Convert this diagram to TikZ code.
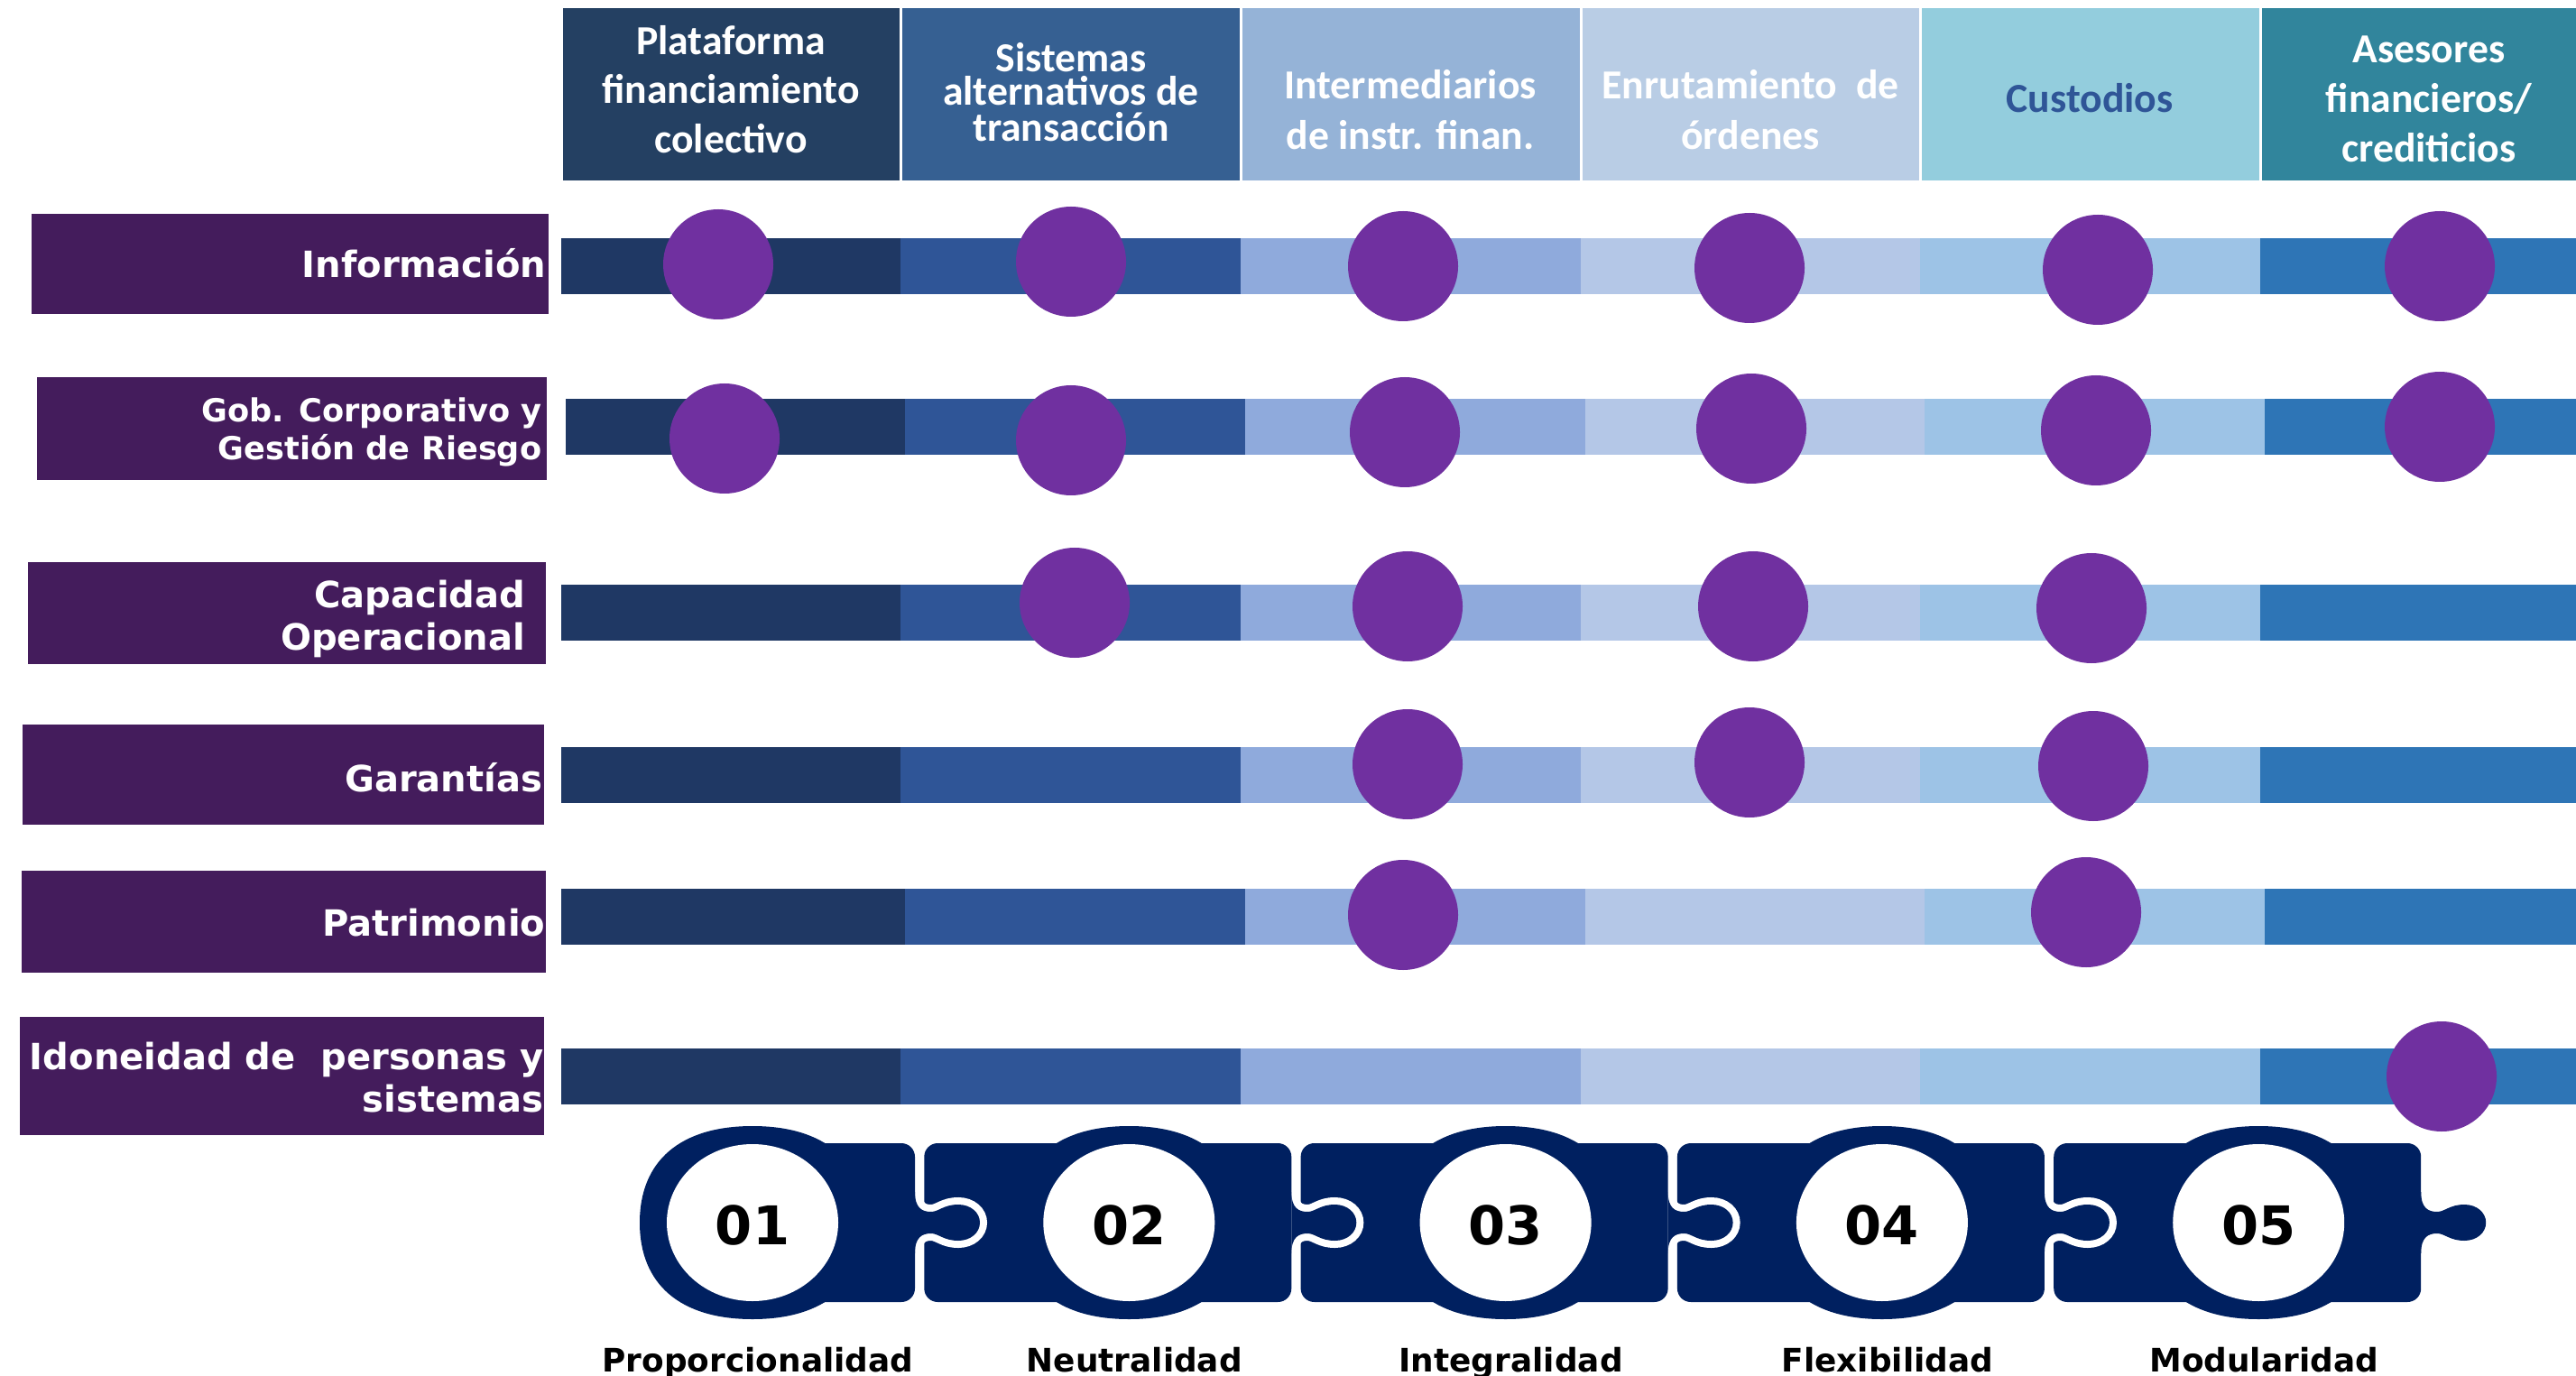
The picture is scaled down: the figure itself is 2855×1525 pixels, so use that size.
\documentclass[tikz,border=0pt]{standalone}
\usepackage{fontspec}
\newfontfamily\carlito{Carlito}
\newfontfamily\dvs{DejaVu Sans}
\definecolor{hcA}{HTML}{244062}
\definecolor{hcB}{HTML}{366092}
\definecolor{hcC}{HTML}{95B3D7}
\definecolor{hcD}{HTML}{B9CDE5}
\definecolor{hcE}{HTML}{93CDDD}
\definecolor{hcF}{HTML}{31859C}
\definecolor{bcA}{HTML}{1F3864}
\definecolor{bcB}{HTML}{2F5597}
\definecolor{bcC}{HTML}{8FAADC}
\definecolor{bcD}{HTML}{B4C7E7}
\definecolor{bcE}{HTML}{9DC3E6}
\definecolor{bcF}{HTML}{2E75B6}
\definecolor{dotc}{HTML}{7030A0}
\definecolor{lblbg}{HTML}{441C5C}
\definecolor{navy}{HTML}{002060}
\definecolor{custtxt}{HTML}{2F5597}
\newcommand\mybarrow[4]{%
  \fill[bcA] (#3,#1) rectangle (998+#4,#2);
  \fill[bcB] (998+#4,#1) rectangle (1375+#4,#2);
  \fill[bcC] (1375+#4,#1) rectangle (1752+#4,#2);
  \fill[bcD] (1752+#4,#1) rectangle (2128+#4,#2);
  \fill[bcE] (2128+#4,#1) rectangle (2505+#4,#2);
  \fill[bcF] (2505+#4,#1) rectangle (2855,#2);}
\begin{document}
\begin{tikzpicture}[x=0.01cm,y=-0.01cm,
  hdr/.style={font=\carlito\bfseries\fontsize{13}{15}\selectfont, text=white, inner sep=0pt, anchor=base},
  lbl/.style={font=\dvs\bfseries\fontsize{11.4}{13}\selectfont, text=white, inner sep=0pt, anchor=base east},
  lblsmall/.style={lbl, font=\dvs\bfseries\fontsize{10}{12}\selectfont},
  num/.style={font=\dvs\bfseries\fontsize{16.8}{18}\selectfont, text=black, inner sep=0pt},
  prin/.style={font=\dvs\bfseries\fontsize{10.2}{12}\selectfont, text=black, inner sep=0pt, anchor=base},
  cell/.style={draw=white, line width=0.03cm},
  knobpath/.style={insert path={(\R,1321) .. controls (\R,1339) and (\R+8,1343) .. (\R+18,1343)
     .. controls (\R+26,1343) and (\R+32,1335) .. (\R+48,1335)
     .. controls (\R+62,1335) and (\R+72,1344) .. (\R+72,1355)
     .. controls (\R+72,1366) and (\R+62,1375) .. (\R+48,1375)
     .. controls (\R+32,1375) and (\R+26,1367) .. (\R+18,1367)
     .. controls (\R+8,1367) and (\R,1371) .. (\R,1389) -- cycle}}
]
\useasboundingbox (0,0) rectangle (2855,1525);
\fill[white] (0,0) rectangle (2855,1525);

% header cells
\path[cell, fill=hcA] (622,8) rectangle (998,202);
\path[cell, fill=hcB] (998,8) rectangle (1375,202);
\path[cell, fill=hcC] (1375,8) rectangle (1752,202);
\path[cell, fill=hcD] (1752,8) rectangle (2128,202);
\path[cell, fill=hcE] (2128,8) rectangle (2505,202);
\path[cell, fill=hcF] (2505,8) rectangle (2858,202);

\node[hdr] (hA1) at (810,61) {Plataforma};
\node[hdr] (hA2) at (810,115) {financiamiento};
\node[hdr] (hA3) at (810,170) {colectivo};
\node[hdr] (hB1) at (1187,80) {Sistemas};
\node[hdr] (hB2) at (1187,117) {alternativos de};
\node[hdr] (hB3) at (1187,157) {transacción};
\node[hdr] (hC1) at (1563,110) {Intermediarios};
\node[hdr] (hC2) at (1563,166) {de instr. finan.};
\node[hdr] (hD1) at (1940,110) {Enrutamiento\ \ de};
\node[hdr] (hD2) at (1940,166) {órdenes};
\node[hdr, text=custtxt] (hE1) at (2316,125) {Custodios};
\node[hdr] (hF1) at (2692,70) {Asesores};
\node[hdr] (hF2) at (2692,125) {financieros/};
\node[hdr] (hF3) at (2692,180) {crediticios};

% left labels
\fill[lblbg] (35,237) rectangle (608,348);
\node[lbl] (lA) at (606,308) {Información};
\fill[lblbg] (41,418) rectangle (606,532);
\node[lblsmall] (lB1) at (601,468) {Gob. Corporativo y};
\node[lblsmall] (lB2) at (601,510) {Gestión de Riesgo\ };
\fill[lblbg] (31,623) rectangle (605,736);
\node[lbl] (lC1) at (583,673) {Capacidad};
\node[lbl] (lC2) at (583,720) {Operacional};
\fill[lblbg] (25,803) rectangle (603,914);
\node[lbl] (lD) at (602,877) {Garantías};
\fill[lblbg] (24,965) rectangle (605,1078);
\node[lbl] (lE) at (605,1037) {Patrimonio};
\fill[lblbg] (22,1127) rectangle (603,1258);
\node[lbl] (lF1) at (603,1185) {Idoneidad de\ \ personas y};
\node[lbl] (lF2) at (603,1232) {sistemas};

% bars
\mybarrow{264}{326}{622}{0}
\mybarrow{442}{504}{627}{5}
\mybarrow{648}{710}{622}{0}
\mybarrow{828}{890}{622}{0}
\mybarrow{985}{1047}{622}{5}
\mybarrow{1162}{1224}{622}{0}

% dots
\foreach \p in {(796,293),(1187,290),(1555,295),(1939,297),(2325,299),(2704,295),
  (803,486),(1187,488),(1557,479),(1941,475),(2323,477),(2704,473),
  (1191,668),(1560,672),(1943,672),(2318,674),
  (1560,847),(1939,845),(2320,849),
  (1555,1014),(2312,1011),
  (2706,1193)}
  \fill[dotc] \p circle[radius=61];

% puzzle pieces
\foreach \i/\t in {5/Modularidad,4/Flexibilidad,3/Integralidad,2/Neutralidad,1/Proporcionalidad}{
  \pgfmathsetmacro\c{834+417.3*(\i-1)}
  \pgfmathsetmacro\L{\i==1 ? \c : \c-227}
  \pgfmathsetmacro\R{\c+180}
  \path[draw=white, line width=0.16cm, rounded corners=0.15cm] (\L,1267) rectangle (\R,1443);
  \path[draw=white, line width=0.16cm, knobpath];
  \path[fill=navy, rounded corners=0.15cm] (\L,1267) rectangle (\R,1443);
  \path[fill=navy, knobpath];
  \path[fill=navy] (\c+125,1355) .. controls (\c+125,1286.5) and (\c+80,1248) .. (\c,1248)
     .. controls (\c-80,1248) and (\c-125,1286.5) .. (\c-125,1355)
     .. controls (\c-125,1423.5) and (\c-80,1462) .. (\c,1462)
     .. controls (\c+80,1462) and (\c+125,1423.5) .. (\c+125,1355) -- cycle;
  \fill[white] (\c,1355) ellipse [x radius=95, y radius=87];
  \node[num] (n\i) at (\c,1358) {0\i};
  \node[prin] (p\i) at (\c+6,1520) {\t};
}
\end{tikzpicture}
\end{document}
